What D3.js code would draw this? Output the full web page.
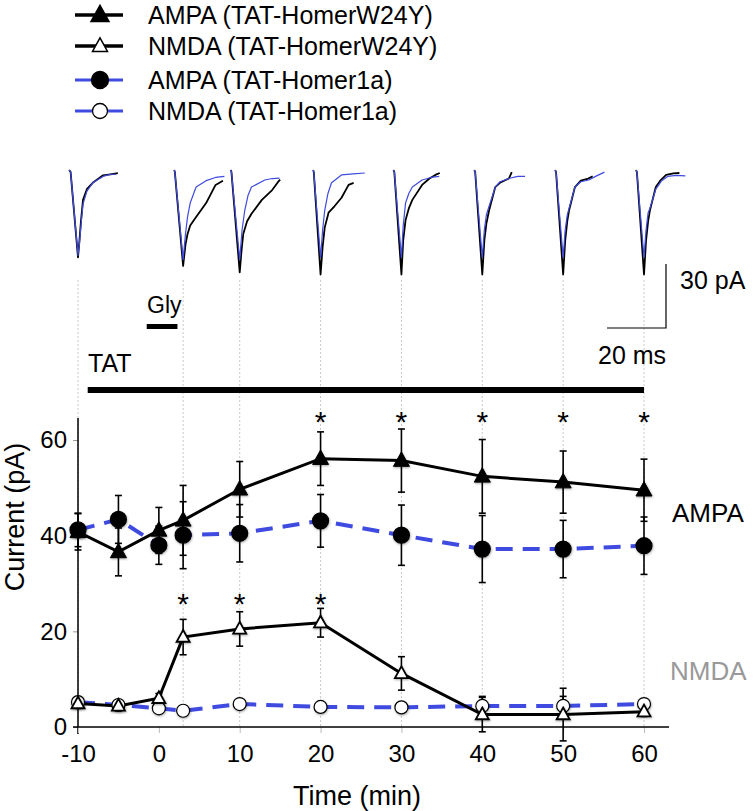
<!DOCTYPE html>
<html><head><meta charset="utf-8">
<script src="https://cdn.jsdelivr.net/npm/d3@7"></script>
<style>
body{margin:0;background:#fff;}
svg text{font-family:"Liberation Sans",Arial,Helvetica,sans-serif;}
.narrow{font-family:"Liberation Sans Narrow","Arial Narrow","Liberation Sans",sans-serif;}
</style></head>
<body>
<svg id="chart" width="754" height="811"></svg>
<script>
// ---------- data ----------
const times = [-10, -5, 0, 3, 10, 20, 30, 40, 50, 60];
const ampaW24Y = [40.8, 36.6, 41.1, 43.2, 49.7, 56.1, 55.7, 52.4, 51.2, 49.5];
const ampaW24YErr = [3.8, 5.0, 4.8, 7.3, 5.8, 5.6, 6.6, 7.7, 6.5, 6.5];
const ampa1a = [41.2, 43.4, 38.0, 40.1, 40.5, 43.1, 40.1, 37.2, 37.2, 37.9];
const ampa1aErr = [3.5, 5.0, 4.0, 7.0, 6.0, 5.5, 6.3, 7.0, 6.0, 6.0];
const nmdaW24Y = [4.9, 4.4, 6.0, 18.8, 20.5, 21.8, 11.2, 2.6, 2.6, 3.2];
const nmdaW24YErr = [1.0, 1.0, 1.0, 3.7, 3.6, 3.0, 3.5, 3.6, 5.5, 1.0];
const nmda1a = [5.2, 4.6, 3.9, 3.4, 4.8, 4.2, 4.1, 4.4, 4.4, 4.8];
const nmda1aErr = [1.0, 1.0, 1.0, 1.0, 1.0, 1.0, 1.0, 2.0, 2.0, 1.0];
const ampaStars = [20, 30, 40, 50, 60];
const nmdaStars = [3, 10, 20];
const xTicks = [-10, 0, 10, 20, 30, 40, 50, 60];
const yTicks = [0, 20, 40, 60];
const glyPeriod = [-1.5, 2.3];
const tatPeriod = [-8.8, 60];
const traceTimes = [-10, 3, 10, 20, 30, 40, 50, 60];
// example EPSC traces: [ms from peak, pA]
const tracesW24Y = [
 [[-3,0],[-2.5,-1],[0,-41],[0.5,-33],[1,-24],[1.7,-14],[3,-9],[5,-6],[8.5,-2.5],[11,-2],[13.5,-1.5]],
 [[-3,0],[-2.8,-1],[0,-45],[0.8,-35],[1.5,-30],[2.4,-26],[4.4,-22],[7.8,-15.5],[11,-7],[13.5,-5]],
 [[-3,0],[-2.8,-1],[0,-48],[0.6,-38],[1.2,-30],[2.5,-24],[4,-20.5],[7.5,-14],[11,-9.4],[13,-5.6],[13.7,-4.5]],
 [[-2.5,0],[-2.3,-1],[0,-49],[0.7,-36],[1.4,-27],[2.7,-20],[4.7,-17],[7.1,-13],[9.5,-7],[11.2,-6]],
 [[-2.7,0],[-2.4,-1],[0,-49],[0.6,-33],[1.4,-23.5],[2.5,-18],[3.7,-14],[7,-7],[9.5,-4],[11.5,-2.3],[13,-1.4]],
 [[-2.7,0],[-2.4,-1],[0,-49],[0.7,-33],[1.4,-25],[2.3,-19],[4.4,-8],[6,-6],[9,-4],[10,-1]],
 [[-2.7,0],[-2.4,-1],[0,-49],[0.7,-33],[1.4,-24],[2,-19],[4,-8],[6,-5],[8.5,-4],[10,-3]],
 [[-2.7,0],[-2.4,-1],[0,-49],[0.7,-33],[1.4,-24],[2,-19],[4,-8],[5.5,-5],[7.5,-2.3],[10,-1.6],[12,-1.4]]
];
const traces1a = [
 [[-3,0],[-2.5,-1],[0,-40],[0.5,-34],[1,-26],[1.7,-16],[3,-10],[5,-6],[8.5,-3],[11,-2],[13,-2]],
 [[-3,0],[-2.8,-1],[0,-42],[0.8,-30],[1.5,-22],[2.4,-15.5],[4.4,-8],[7.8,-5],[11,-3.5],[14,-3]],
 [[-3,0],[-2.8,-1],[0,-42],[0.8,-28],[1.7,-19],[2.8,-12],[4,-8],[8.5,-4.7],[11,-4],[13.5,-3.8]],
 [[-2.5,0],[-2.3,-1],[0,-41],[0.7,-28],[1.4,-19],[2.5,-11],[3.7,-6],[7.1,-2.3],[11,-1.8],[15,-1.4]],
 [[-2.7,0],[-2.4,-1],[0,-41],[0.6,-26],[1.4,-15.5],[2.5,-11],[3.7,-8],[7,-4.7],[10,-3.5],[12.8,-3]],
 [[-2.7,0],[-2.4,-1],[0,-41],[0.7,-28],[1.4,-21],[2.3,-17],[4.4,-8],[6,-5.5],[9,-4],[12,-3],[14.5,-3]],
 [[-2.7,0],[-2.4,-1],[0,-41],[0.7,-28],[1.4,-21],[2,-18],[4,-8],[6,-5.5],[8.7,-4.7],[11,-3],[14,-1]],
 [[-2.7,0],[-2.4,-1],[0,-41],[0.7,-28],[1.4,-20],[2,-18],[4,-9],[6,-5],[8,-3],[11,-2.5],[14,-2.8]]
];
const legendItems = [
 {label:"AMPA (TAT-HomerW24Y)", color:"#000", marker:"triangle", fill:"#000"},
 {label:"NMDA (TAT-HomerW24Y)", color:"#000", marker:"triangle", fill:"#fff"},
 {label:"AMPA (TAT-Homer1a)", color:"#3f4be0", marker:"circle", fill:"#000"},
 {label:"NMDA (TAT-Homer1a)", color:"#3f4be0", marker:"circle", fill:"#fff"}
];

// ---------- setup ----------
const svg = d3.select("#chart");
const BLUE = "#3f4be0";
const x = d3.scaleLinear().domain([-10, 60]).range([78, 644]);
const y = d3.scaleLinear().domain([0, 60]).range([727, 440]);

const defs = svg.append("defs");
const f = defs.append("filter").attr("id", "shadow").attr("x", "-50%").attr("y", "-50%").attr("width", "200%").attr("height", "200%");
f.append("feDropShadow").attr("dx", 0.5).attr("dy", 1).attr("stdDeviation", 1.2).attr("flood-color", "#000").attr("flood-opacity", 0.35);

// trace scales (ms / pA -> px)
const msPx = d3.scaleLinear().domain([0, 20]).range([0, 59]);
const pAPx = d3.scaleLinear().domain([0, 30]).range([0, 64]);
const traceBase = 170;

// dotted guide lines
svg.append("g").selectAll("line").data(traceTimes).join("line")
  .attr("x1", d => x(d)).attr("x2", d => x(d))
  .attr("y1", 280).attr("y2", 727)
  .attr("stroke", "#c8c8c8").attr("stroke-width", 1).attr("stroke-dasharray", "2,2");

// traces
const traceLine = (t) => d3.line().x(p => x(t) + msPx(p[0])).y(p => traceBase - pAPx(p[1]));
const tg = svg.append("g").attr("fill", "none");
traceTimes.forEach((t, i) => {
  tg.append("path").attr("d", traceLine(t)(tracesW24Y[i])).attr("stroke", "#000").attr("stroke-width", 1.8).attr("stroke-linejoin","round");
  tg.append("path").attr("d", traceLine(t)(traces1a[i])).attr("stroke", BLUE).attr("stroke-width", 1.2).attr("stroke-linejoin","round");
});

// scale bar
svg.append("path").attr("d", `M${607},${328}H${666}V${328 - pAPx(30)}`)
  .attr("fill", "none").attr("stroke", "#000").attr("stroke-width", 1.2);
svg.append("text").attr("x", 680).attr("y", 289).attr("font-size", 25).text("30 pA");
svg.append("text").attr("x", 598).attr("y", 364).attr("font-size", 25).text("20 ms");

// Gly and TAT bars
svg.append("text").attr("x", 147).attr("y", 313).attr("font-size", 23).text("Gly");
svg.append("rect").attr("x", x(glyPeriod[0])).attr("width", x(glyPeriod[1]) - x(glyPeriod[0]))
  .attr("y", 324).attr("height", 5).attr("fill", "#000");
svg.append("text").attr("x", 88).attr("y", 372).attr("font-size", 25).text("TAT");
svg.append("rect").attr("x", x(tatPeriod[0])).attr("width", x(tatPeriod[1]) - x(tatPeriod[0]))
  .attr("y", 387).attr("height", 6).attr("fill", "#000");

// axes
const fmt = d => String(d);
const yAxis = d3.axisLeft(y).tickValues(yTicks).tickSize(5).tickPadding(6).tickFormat(fmt);
const gy = svg.append("g").attr("transform", "translate(78,0)").call(yAxis);
gy.select(".domain").remove();
gy.selectAll(".tick line").attr("stroke", "#999");
gy.selectAll(".tick text").attr("class", "narrow").attr("font-size", 24).attr("fill", "#000");
svg.append("line").attr("x1", 78).attr("x2", 78).attr("y1", 418).attr("y2", 734).attr("stroke", "#000").attr("stroke-width", 1.5);

const xAxis = d3.axisBottom(x).tickValues(xTicks).tickSize(6).tickPadding(12).tickFormat(fmt);
const gx = svg.append("g").attr("transform", "translate(0,727)").call(xAxis);
gx.select(".domain").remove();
gx.selectAll(".tick line").attr("stroke", "#bbb");
gx.selectAll(".tick text").attr("class", "narrow").attr("font-size", 24).attr("fill", "#000");
svg.append("line").attr("x1", 73).attr("x2", 669).attr("y1", 727).attr("y2", 727).attr("stroke", "#000").attr("stroke-width", 1.5);

svg.append("text").attr("transform", "translate(24,517) rotate(-90)").attr("text-anchor", "middle")
  .attr("font-size", 27).text("Current (pA)");
svg.append("text").attr("x", 357).attr("y", 805).attr("text-anchor", "middle")
  .attr("font-size", 27).text("Time (min)");

// series
const seriesLine = vals => d3.line().x((d, i) => x(times[i])).y(d => y(d))(vals);
const plot = svg.append("g");
plot.append("path").attr("d", seriesLine(nmda1a)).attr("fill", "none").attr("stroke", BLUE).attr("stroke-width", 4).attr("stroke-dasharray", "17,10");
plot.append("path").attr("d", seriesLine(ampa1a)).attr("fill", "none").attr("stroke", BLUE).attr("stroke-width", 4).attr("stroke-dasharray", "17,10");
plot.append("path").attr("d", seriesLine(nmdaW24Y)).attr("fill", "none").attr("stroke", "#000").attr("stroke-width", 3);
plot.append("path").attr("d", seriesLine(ampaW24Y)).attr("fill", "none").attr("stroke", "#000").attr("stroke-width", 3);

function errorBars(vals, errs) {
  const g = plot.append("g").attr("stroke", "#000").attr("stroke-width", 1.6);
  vals.forEach((v, i) => {
    const cx = x(times[i]), y1 = y(v + errs[i]), y2 = y(v - errs[i]);
    g.append("line").attr("x1", cx).attr("x2", cx).attr("y1", y1).attr("y2", y2);
    g.append("line").attr("x1", cx - 3.5).attr("x2", cx + 3.5).attr("y1", y1).attr("y2", y1);
    g.append("line").attr("x1", cx - 3.5).attr("x2", cx + 3.5).attr("y1", y2).attr("y2", y2);
  });
}
errorBars(ampa1a, ampa1aErr);
errorBars(nmda1a, nmda1aErr);
errorBars(ampaW24Y, ampaW24YErr);
errorBars(nmdaW24Y, nmdaW24YErr);

function triPath(cx, cy, w) {
  const h = w * 0.9;
  return `M${cx},${cy - h * 0.6}L${cx + w / 2},${cy + h * 0.4}L${cx - w / 2},${cy + h * 0.4}Z`;
}
function markers(vals, type, fill) {
  const g = plot.append("g").attr("filter", "url(#shadow)");
  vals.forEach((v, i) => {
    const cx = x(times[i]), cy = y(v);
    if (type === "circle") {
      g.append("circle").attr("cx", cx).attr("cy", cy).attr("r", fill === "#000" ? 8 : 6.5)
        .attr("fill", fill).attr("stroke", "#000").attr("stroke-width", 1.2);
    } else {
      g.append("path").attr("d", triPath(cx, cy, fill === "#000" ? 16 : 13))
        .attr("fill", fill).attr("stroke", "#000").attr("stroke-width", fill === "#000" ? 1 : 1.8).attr("stroke-linejoin","miter");
    }
  });
}
markers(nmda1a, "circle", "#fff");
markers(nmdaW24Y, "triangle", "#fff");
markers(ampa1a, "circle", "#000");
markers(ampaW24Y, "triangle", "#000");

// significance stars
svg.append("g").selectAll("text").data(ampaStars).join("text")
  .attr("x", d => x(d)).attr("y", 432).attr("text-anchor", "middle").attr("font-size", 30).text("*");
svg.append("g").selectAll("text").data(nmdaStars).join("text")
  .attr("x", d => x(d)).attr("y", 614).attr("text-anchor", "middle").attr("font-size", 30).text("*");

// right labels
svg.append("text").attr("x", 672).attr("y", 522).attr("font-size", 26).text("AMPA");
svg.append("text").attr("x", 670).attr("y", 680).attr("font-size", 26).attr("fill", "#999").text("NMDA");

// legend
const lg = svg.append("g");
const rowY = [15, 46, 80, 111];
legendItems.forEach((it, i) => {
  const ry = rowY[i];
  lg.append("line").attr("x1", 75).attr("x2", 123).attr("y1", ry).attr("y2", ry)
    .attr("stroke", it.color).attr("stroke-width", it.marker === "triangle" ? 3.5 : 3);
  if (it.marker === "circle") {
    lg.append("circle").attr("cx", 100).attr("cy", ry).attr("r", it.fill === "#000" ? 8.5 : 7.5)
      .attr("fill", it.fill).attr("stroke", "#000").attr("stroke-width", 1.3);
  } else {
    lg.append("path").attr("d", triPath(100, ry, it.fill === "#000" ? 18 : 15))
      .attr("fill", it.fill).attr("stroke", "#000").attr("stroke-width", 1.5);
  }
  lg.append("text").attr("x", 148).attr("y", ry + 9).attr("font-size", 25).text(it.label);
});
</script>
</body></html>
